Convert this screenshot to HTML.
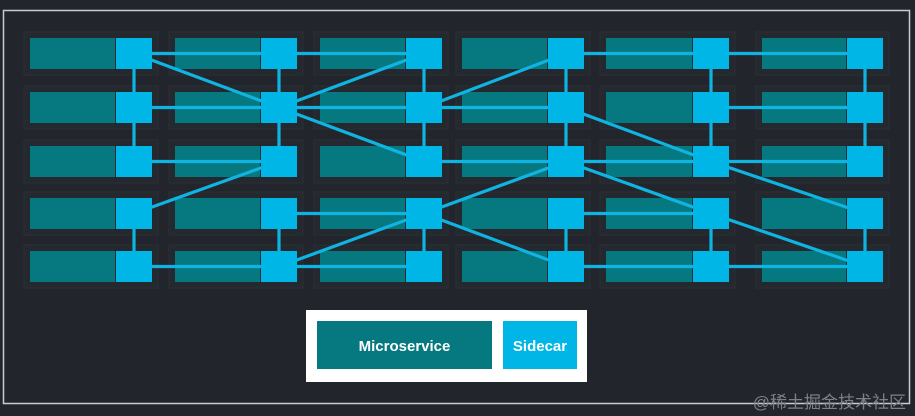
<!DOCTYPE html>
<html><head><meta charset="utf-8">
<style>
html,body{margin:0;padding:0;background:#22262c;}
svg{display:block;}
</style></head>
<body>
<svg width="915" height="416" viewBox="0 0 915 416" xmlns="http://www.w3.org/2000/svg">
<rect x="0" y="0" width="915" height="416" fill="#22262c"/>
<rect x="3.5" y="10.5" width="906" height="393" fill="none" stroke="#c8cacc" stroke-width="1.5"/>
<g id="panels" fill="#24292f" stroke="#2b3036" stroke-width="1">
</g>
<g id="ms" fill="#057880"></g>
<g id="lines" stroke="#0fb4e2" stroke-width="3.2" fill="none"></g>
<g id="sq" fill="#00b6e6"></g>
<rect x="306" y="310" width="281" height="72" fill="#ffffff"/>
<rect x="317" y="321" width="175" height="48" fill="#057880"/>
<rect x="503" y="321" width="74" height="48" fill="#00b6e6"/>
<text x="404.5" y="351" font-family="'Liberation Sans',sans-serif" font-size="15" font-weight="bold" fill="#ffffff" text-anchor="middle">Microservice</text>
<text x="540" y="351" font-family="'Liberation Sans',sans-serif" font-size="15" font-weight="bold" fill="#ffffff" text-anchor="middle">Sidecar</text>
<text x="906" y="408" font-family="'Liberation Sans','Noto Sans CJK SC',sans-serif" font-size="17" fill="#7d8186" text-anchor="end">@稀土掘金技术社区</text>
<script>
(function(){
var NS="http://www.w3.org/2000/svg";
var sqX=[116,261,406,548,693,847];
var msX=[30,175,320,462,606,762];
var rowY=[38,92,146,198,251];
var cx=sqX.map(function(x){return x+18;});
var cy=rowY.map(function(y){return y+15.5;});
function el(g,tag,a){var e=document.createElementNS(NS,tag);for(var k in a)e.setAttribute(k,a[k]);document.getElementById(g).appendChild(e);}
for(var c=0;c<6;c++)for(var r=0;r<5;r++){
 el("panels","rect",{x:msX[c]-6,y:rowY[r]-6,width:sqX[c]+36-msX[c]+12,height:43});
 el("ms","rect",{x:msX[c],y:rowY[r],width:sqX[c]-msX[c]-1,height:31});
 el("sq","rect",{x:sqX[c],y:rowY[r],width:36,height:31});
}
function L(c1,r1,c2,r2){el("lines","line",{x1:cx[c1],y1:cy[r1],x2:cx[c2],y2:cy[r2]});}
for(var c=0;c<6;c++){L(c,0,c,2);L(c,3,c,4);}
L(0,0,1,0);L(0,0,1,1);L(0,1,1,1);L(0,2,1,2);L(0,3,1,2);L(0,4,1,4);
L(1,0,2,0);L(1,1,2,0);L(1,1,2,1);L(1,1,2,2);L(1,3,2,3);L(1,4,2,3);L(1,4,2,4);
L(2,1,3,0);L(2,1,3,1);L(2,2,3,2);L(2,3,3,2);L(2,3,3,4);
L(3,0,4,0);L(3,1,4,2);L(3,2,4,2);L(3,2,4,3);L(3,3,4,3);L(3,4,4,4);
L(4,0,5,0);L(4,1,5,1);L(4,2,5,2);L(4,2,5,3);L(4,3,5,4);L(4,4,5,4);
})();
</script>
</svg>
</body></html>
